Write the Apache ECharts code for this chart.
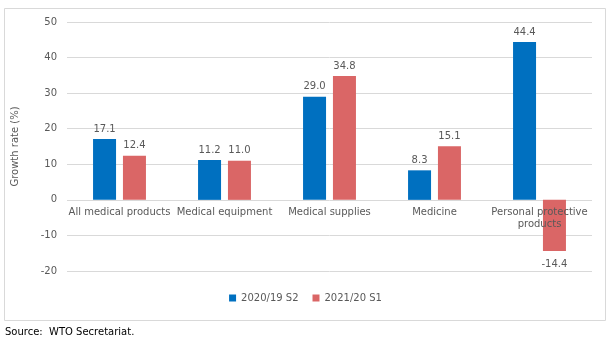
<!DOCTYPE html>
<html><head><meta charset="utf-8">
<script src="https://cdn.jsdelivr.net/npm/echarts@6/dist/echarts.min.js"></script>
<style>html,body{margin:0;padding:0;background:#fff}#c{width:611px;height:349px}</style>
</head><body><div id="c"></div>
<script>
const categories = ["All medical products","Medical equipment","Medical supplies","Medicine","Personal protective\nproducts"];
const seriesNames = ["2020/19 S2","2021/20 S1"];
const s2 = [17.1, 11.2, 29.0, 8.3, 44.4];
const s1 = [12.4, 11.0, 34.8, 15.1, -14.4];
const yTicks = {min:-20, max:50, interval:10};

const font = 'DejaVu Sans, Verdana, sans-serif';
const gridTop = 22, gridBottom = 78, H = 349;
const plotH = H - gridTop - gridBottom;
const zeroOffset = -plotH * (0 - yTicks.min) / (yTicks.max - yTicks.min);

function withLabels(arr){
  return arr.map(v => v < 0 ? {value:v, label:{position:'bottom', distance:8}} : v);
}
const chart = echarts.init(document.getElementById('c'), null, {renderer:'canvas'});
chart.setOption({
  animation:false,
  textStyle:{fontFamily:font},
  graphic:[
    {type:'rect', shape:{x:4.5,y:8.5,width:601,height:312}, style:{fill:'none',stroke:'#d9d9d9',lineWidth:1}, z:-1},
    {type:'text', left:5, top:327, style:{text:'Source:  WTO Secretariat.', font:'10px '+font, fill:'#000'}}
  ],
  grid:{left:67, right:19, top:gridTop, bottom:gridBottom},
  legend:{bottom:41, left:'center', itemWidth:7, itemHeight:7, itemGap:14, icon:'rect',
    textStyle:{color:'#595959', fontSize:10, fontFamily:font}, data:seriesNames},
  xAxis:{type:'category', data:categories, offset:zeroOffset, z:5,
    axisLine:{show:false, onZero:false}, axisTick:{show:false},
    axisLabel:{color:'#595959', fontSize:10, margin:7, interval:0, lineHeight:12, fontFamily:font}},
  yAxis:{type:'value', min:yTicks.min, max:yTicks.max, interval:yTicks.interval,
    name:'Growth rate (%)', nameLocation:'middle', nameGap:47, nameRotate:90,
    nameTextStyle:{color:'#595959', fontSize:10, fontFamily:font},
    axisLine:{show:false}, axisTick:{show:false},
    axisLabel:{color:'#595959', fontSize:10, margin:10, fontFamily:font},
    splitLine:{lineStyle:{color:'#d9d9d9'}}},
  series:[
    {name:seriesNames[0], type:'bar', data:withLabels(s2), barWidth:23, barGap:'30%',
      itemStyle:{color:'#0070C0'},
      label:{show:true, position:'top', color:'#595959', fontSize:10, fontFamily:font, formatter:p=>p.value.toFixed(1)}},
    {name:seriesNames[1], type:'bar', data:withLabels(s1), barWidth:23,
      itemStyle:{color:'#DA6666'},
      label:{show:true, position:'top', color:'#595959', fontSize:10, fontFamily:font,
        formatter:p=>p.value.toFixed(1)}}
  ]
});
</script></body></html>
